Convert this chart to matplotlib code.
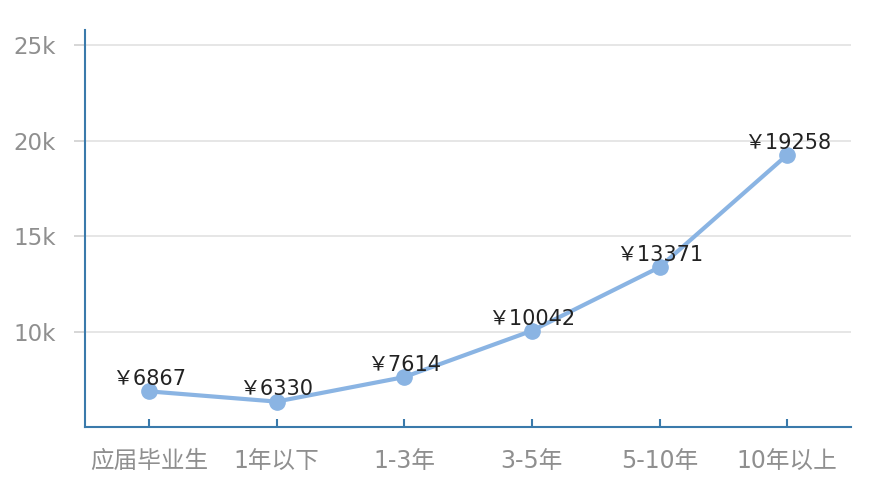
import matplotlib
matplotlib.use("Agg")
import matplotlib.pyplot as plt

plt.rcParams['font.family'] = ['DejaVu Sans', 'Noto Sans CJK SC']

# data
categories = ['应届毕业生', '1年以下', '1-3年', '3-5年', '5-10年', '10年以上']
salary = [6867, 6330, 7614, 10042, 13371, 19258]
yticks = [10000, 15000, 20000, 25000]
ytick_labels = ['10k', '15k', '20k', '25k']

axis_col = '#3a7aab'
line_col = '#8ab4e3'

fig = plt.figure(figsize=(8.84, 4.9), dpi=100)
ax = fig.add_axes([0.0962, 0.1286, 0.8665, 0.8102])

x = list(range(len(categories)))
ax.plot(x, salary, color=line_col, lw=3, marker='o', ms=11, zorder=3)

for xi, v in zip(x, salary):
    ax.annotate('￥' + str(v), (xi, v), xytext=(0, 4.5), textcoords='offset points',
                ha='center', va='baseline', fontsize=15, color='#222222', zorder=4)

ax.set_xlim(-0.5, len(categories) - 0.5)
ax.set_ylim(5000, 25800)

ax.set_yticks(yticks)
ax.set_yticklabels(ytick_labels)
ax.set_xticks(x)
ax.set_xticklabels(categories)

# light grid lines
for t in yticks:
    ax.axhline(t, color='#e2e2e2', lw=1.2, zorder=0)

for s in ['top', 'right']:
    ax.spines[s].set_visible(False)
for s in ['left', 'bottom']:
    ax.spines[s].set_color(axis_col)
    ax.spines[s].set_linewidth(1.5)

ax.tick_params(axis='y', length=8, width=1.2, color='#d0d0d0', labelsize=16.5,
               labelcolor='#8f8f8f', pad=13)
ax.tick_params(axis='x', direction='in', length=6, width=1.5, color=axis_col,
               labelsize=17, labelcolor='#8f8f8f', pad=16)

fig.savefig('out.png', dpi=100)
